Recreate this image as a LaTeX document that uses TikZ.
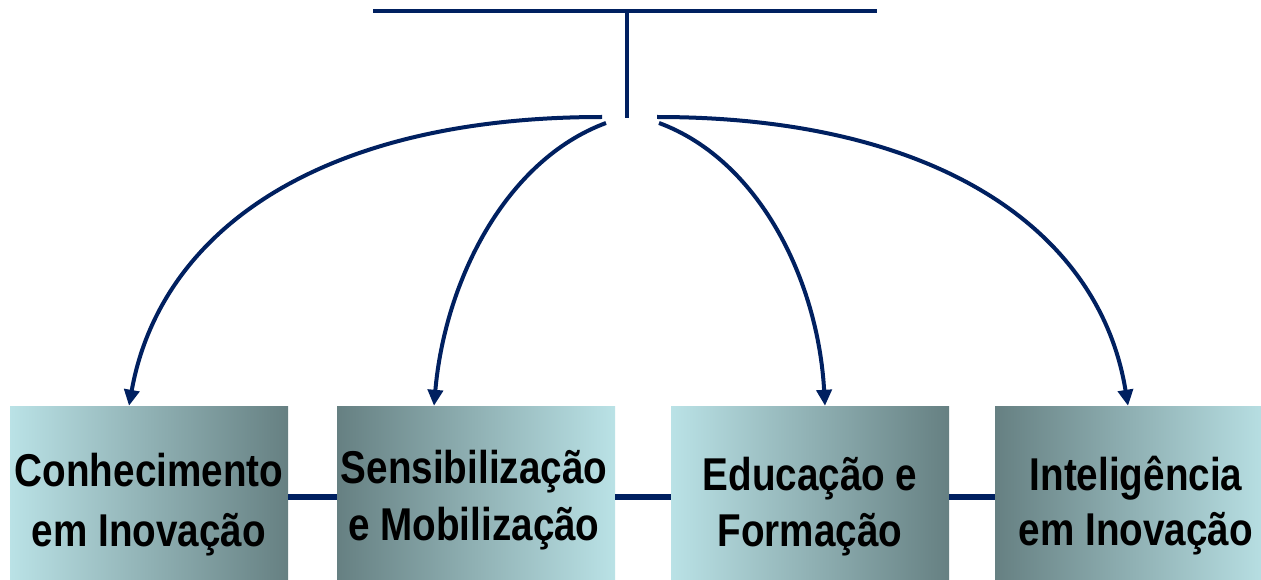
\documentclass[tikz,border=0pt]{standalone}
\usepackage{fontspec}
\newfontfamily\boxfont{Liberation Sans}[FakeStretch=0.84]
\usetikzlibrary{arrows.meta}
\definecolor{navy}{RGB}{0,32,96}
\definecolor{boxlight}{RGB}{186,226,230}
\definecolor{boxdark}{RGB}{102,128,130}
\tikzset{
  box/.style={draw=none, minimum width=278pt, minimum height=182pt, inner sep=0pt},
  lighttodark/.style={left color=boxlight, right color=boxdark},
  darktolight/.style={left color=boxdark, right color=boxlight},
  lbl/.style={anchor=base, inner sep=0pt, text=black, font=\boxfont\bfseries\fontsize{46}{56}\selectfont},
  rule/.style={draw=navy, line width=4pt},
  link/.style={draw=navy, line width=6pt},
  arr/.style={draw=navy, line width=4pt, -{Triangle[width=15pt,length=16pt]}}
}
\begin{document}
\begin{tikzpicture}[x=1pt,y=-1pt]
\useasboundingbox (0,0) rectangle (1261,580);
\fill[white] (0,0) rectangle (1261,580);

% boxes
\node[box, lighttodark] (b1) at (149,497) {};
\node[box, darktolight] (b2) at (476,497) {};
\node[box, lighttodark] (b3) at (810,497) {};
\node[box, darktolight] (b4) at (1134,497) {};

% links between boxes
\draw[link] (b1.east) -- (b2.west);
\draw[link] (b2.east) -- (b3.west);
\draw[link] (b3.east) -- (b4.west);

% labels
\node[lbl] (t1a) at (149,486) {Conhecimento};
\node[lbl] (t1b) at (149,546) {em Inovação};
\node[lbl] (t2a) at (474,483) {Sensibilização};
\node[lbl] (t2b) at (474,540) {e Mobilização};
\node[lbl] (t3a) at (810,490) {Educação e};
\node[lbl] (t3b) at (810,546) {Formação};
\node[lbl] (t4a) at (1136,490) {Inteligência};
\node[lbl] (t4b) at (1136,545) {em Inovação};

% top bar
\coordinate (tl) at (373,11);
\coordinate (tr) at (877,11);
\coordinate (tm) at (627,11);
\coordinate (vb) at (627,118);
\draw[rule] (tl) -- (tr);
\draw[rule] (tm) -- (vb);

% arrow starts
\coordinate (s1) at (602,117);
\coordinate (s2) at (606,123);
\coordinate (s3) at (659,123);
\coordinate (s4) at (657,117);

\draw[arr] (s1) .. controls (318,117) and (160,232) .. ([xshift=-20pt]b1.north);
\draw[arr] (s2) .. controls (506,160) and (445,280) .. ([xshift=-42pt]b2.north);
\draw[arr] (s3) .. controls (759,160) and (818,280) .. ([xshift=15pt]b3.north);
\draw[arr] (s4) .. controls (940,117) and (1100,232) .. ([xshift=-6pt]b4.north);
\end{tikzpicture}
\end{document}
